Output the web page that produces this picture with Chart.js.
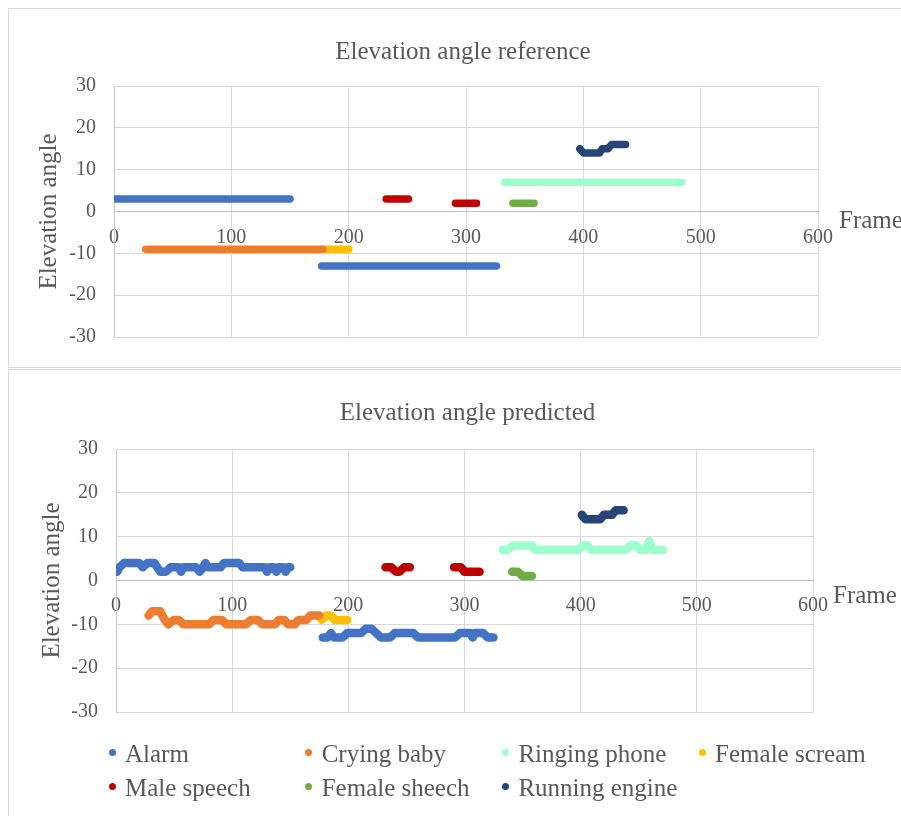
<!DOCTYPE html>
<html>
<head>
<meta charset="utf-8">
<script src="https://cdn.jsdelivr.net/npm/chart.js@4.4.0/dist/chart.umd.min.js"></script>
<style>
  html, body { margin: 0; padding: 0; background: #fff; width: 901px; height: 816px; overflow: hidden; position: relative; }
  .box { position: absolute; border: 1px solid #d9d9d9; }
  #boxTop { left: 8px; top: 8px; width: 920px; height: 358px; }
  #boxBottom { left: 8px; top: 369px; width: 920px; height: 460px; }
  .wrap { position: absolute; left: 0; width: 901px; }
  #wrapTop { top: 0; height: 368px; }
  #wrapBottom { top: 370px; height: 446px; }
  .item { position: absolute; white-space: nowrap; line-height: 30px; height: 30px;
          font-family: 'Liberation Serif', 'Times New Roman', serif; font-size: 25px; color: #595959; }
  .dot { position: absolute; width: 7px; height: 7px; border-radius: 50%; }
</style>
</head>
<body>
<div class="box" id="boxTop"></div>
<div class="box" id="boxBottom"></div>
<div class="wrap" id="wrapTop"><canvas id="refChart"></canvas></div>
<div class="wrap" id="wrapBottom"><canvas id="predChart"></canvas></div>
<div id="legend"></div>
<script>
// series, in the order Excel draws them
const seriesNames = ['Alarm', 'Crying baby', 'Ringing phone', 'Female scream', 'Male speech', 'Female sheech', 'Running engine'];
const seriesColors = ['#4472C4', '#ED7D31', '#9DFFCC', '#FFC000', '#C00000', '#70AD47', '#264478'];

const xTicks = [0, 100, 200, 300, 400, 500, 600];
const yTicks = [-30, -20, -10, 0, 10, 20, 30];

// reference (null angle = break between two runs)
const refAlarmFrames = [1, 150, 164, 177, 326];
const refAlarmAngles = [3, 3, null, -13, -13];
const refCryingFrames = [27, 178];
const refCryingAngles = [-9, -9];
const refRingingFrames = [333, 484];
const refRingingAngles = [7, 7];
const refScreamFrames = [179, 200];
const refScreamAngles = [-9, -9];
const refMaleFrames = [232, 251, 270, 291, 309];
const refMaleAngles = [3, 3, null, 2, 2];
const refFemaleFrames = [340, 358];
const refFemaleAngles = [2, 2];
const refEngineFrames = [397, 400, 414, 416, 421, 424, 436];
const refEngineAngles = [15, 14, 14, 15, 15, 16, 16];

// predicted
const predAlarmFrames = [1, 3, 7, 20, 23, 27, 33, 38, 43, 47, 54, 56, 58, 69, 72, 75, 77, 79, 90, 93,
  106, 109, 128, 130, 132, 136, 138, 140, 144, 146, 148, 150, 164,
  178, 182, 185, 188, 195, 199, 211, 215, 220, 224, 228, 236, 240, 256, 260, 292, 296, 305, 307, 309, 316, 320, 325];
const predAlarmAngles = [2, 3, 4, 4, 3, 4, 4, 2, 2, 3, 3, 2, 3, 3, 2, 3, 4, 3, 3, 4,
  4, 3, 3, 2, 3, 3, 2, 3, 3, 2, 3, 3, null,
  -13, -13, -12, -13, -13, -12, -12, -11, -11, -12, -13, -13, -12, -12, -13, -13, -12, -12, -13, -12, -12, -13, -13];
const predCryingFrames = [28, 31, 38, 42, 45, 50, 54, 58, 80, 84, 91, 95, 112, 116, 122, 126, 137, 140, 145, 148, 154, 157, 164, 167, 171, 175];
const predCryingAngles = [-8, -7, -7, -9, -10, -9, -9, -10, -10, -9, -9, -10, -10, -9, -9, -10, -10, -9, -9, -10, -10, -9, -9, -8, -8, -8];
const predRingingFrames = [333, 337, 342, 358, 361, 398, 402, 406, 409, 439, 443, 448, 451, 456, 459, 462, 465, 471];
const predRingingAngles = [7, 7, 8, 8, 7, 7, 8, 8, 7, 7, 8, 8, 7, 7, 9, 7, 7, 7];
const predScreamFrames = [177, 181, 185, 188, 199];
const predScreamAngles = [-9, -8, -8, -9, -9];
const predMaleFrames = [232, 237, 241, 244, 248, 253, 270, 291, 297, 300, 313];
const predMaleAngles = [3, 3, 2, 2, 3, 3, null, 3, 3, 2, 2];
const predFemaleFrames = [341, 346, 350, 358];
const predFemaleAngles = [2, 2, 1, 1];
const predEngineFrames = [401, 404, 417, 420, 427, 430, 437];
const predEngineAngles = [15, 14, 14, 15, 15, 16, 16];

const xTitle = 'Frame';
const yTitle = 'Elevation angle';

const refSeries = [
  [refAlarmFrames, refAlarmAngles], [refCryingFrames, refCryingAngles], [refRingingFrames, refRingingAngles],
  [refScreamFrames, refScreamAngles], [refMaleFrames, refMaleAngles], [refFemaleFrames, refFemaleAngles],
  [refEngineFrames, refEngineAngles]
];
const predSeries = [
  [predAlarmFrames, predAlarmAngles], [predCryingFrames, predCryingAngles], [predRingingFrames, predRingingAngles],
  [predScreamFrames, predScreamAngles], [predMaleFrames, predMaleAngles], [predFemaleFrames, predFemaleAngles],
  [predEngineFrames, predEngineAngles]
];

Chart.defaults.font.family = "'Liberation Serif', 'Times New Roman', serif";
Chart.defaults.color = '#595959';

const frameLabel = {
  id: 'frameLabel',
  afterDraw(chart, args, opts) {
    const {ctx, chartArea, scales} = chart;
    ctx.save();
    ctx.font = "25px 'Liberation Serif'";
    ctx.fillStyle = '#595959';
    ctx.textBaseline = 'middle';
    ctx.fillText(xTitle, chartArea.right + opts.dx, scales.y.getPixelForValue(0) + opts.dy);
    ctx.restore();
  }
};

function makeChart(id, title, series, L) {
  const datasets = series.map((s, i) => ({
    label: seriesNames[i],
    data: s[0].map((f, j) => ({ x: f, y: s[1][j] })),
    showLine: true,
    borderColor: seriesColors[i],
    backgroundColor: seriesColors[i],
    borderWidth: L.lw,
    borderCapStyle: 'round',
    borderJoinStyle: 'round',
    pointRadius: 0,
    spanGaps: false
  }));
  return new Chart(document.getElementById(id), {
    type: 'scatter',
    data: { datasets: datasets },
    plugins: [frameLabel],
    options: {
      responsive: true,
      maintainAspectRatio: false,
      animation: false,
      layout: { padding: { left: L.padL, right: L.padR, top: L.padT, bottom: L.padB } },
      plugins: {
        legend: { display: false },
        tooltip: { enabled: false },
        title: {
          display: true, text: title, color: '#595959',
          font: { size: 25, weight: 'normal' },
          padding: { top: L.tTop, bottom: L.tBottom }
        },
        frameLabel: { dx: L.fdx, dy: L.fdy }
      },
      scales: {
        x: {
          type: 'linear',
          position: { y: 0 },
          min: xTicks[0], max: xTicks[xTicks.length - 1],
          afterBuildTicks: s => { s.ticks = xTicks.map(v => ({ value: v })); },
          grid: { color: '#d9d9d9', drawTicks: false },
          border: { color: '#bfbfbf' },
          ticks: { padding: L.xPad, font: { size: 20 } }
        },
        y: {
          type: 'linear',
          min: yTicks[0], max: yTicks[yTicks.length - 1],
          afterBuildTicks: s => { s.ticks = yTicks.map(v => ({ value: v })); },
          grid: { color: '#d9d9d9', drawTicks: false },
          border: { color: '#c8c8c8' },
          ticks: { padding: 18, font: { size: 20 } },
          title: { display: true, text: yTitle, font: { size: 25 }, padding: { top: L.yTitlePad, bottom: 0 } },
          afterFit: s => { s.width = L.yW; }
        },
        pad: {
          type: 'linear', position: 'right', display: true,
          grid: { display: false }, border: { display: false }, ticks: { display: false },
          afterFit: s => { s.width = L.rW; }
        }
      }
    }
  });
}

const refChart = makeChart('refChart', 'Elevation angle reference', refSeries,
  { padL: 30, padR: 5, padT: 20, padB: 31, tTop: 17, tBottom: 19, yW: 84, rW: 78, yTitlePad: 4, xPad: 14, fdx: 21, fdy: 10, lw: 7.5 });
const predChart = makeChart('predChart', 'Elevation angle predicted', predSeries,
  { padL: 34, padR: 0, padT: 12, padB: 104, tTop: 16, tBottom: 21, yW: 82, rW: 88, yTitlePad: 3, xPad: 13, fdx: 20, fdy: 16, lw: 8.5 });

// legend under the lower chart, four columns
const legend = document.getElementById('legend');
seriesNames.forEach((name, i) => {
  const col = i % 4, row = Math.floor(i / 4);
  const cx = 112 + col * 196.7, cy = 754 + row * 34;
  const item = document.createElement('div');
  item.className = 'item';
  item.style.left = (cx + 13) + 'px';
  item.style.top = (cy - 15) + 'px';
  item.textContent = name;
  const dot = document.createElement('div');
  dot.className = 'dot';
  dot.style.background = seriesColors[i];
  dot.style.left = (cx - 3.5) + 'px';
  dot.style.top = (cy - 5.5) + 'px';
  legend.appendChild(dot);
  legend.appendChild(item);
});
</script>
</body>
</html>
